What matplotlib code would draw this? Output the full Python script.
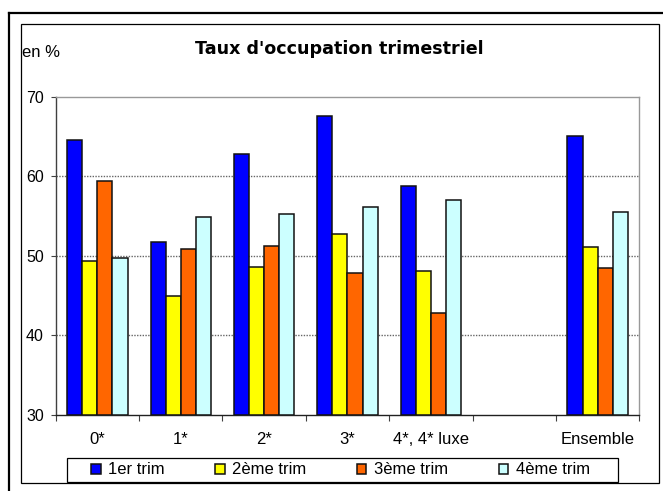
import matplotlib
matplotlib.use("Agg")
import matplotlib.pyplot as plt
import numpy as np
from matplotlib.lines import Line2D
from matplotlib.patches import Rectangle

categories = ["0*", "1*", "2*", "3*", "4*, 4* luxe", "", "Ensemble"]
series_names = ["1er trim", "2ème trim", "3ème trim", "4ème trim"]
trim1 = [64.5, 51.7, 62.8, 67.6, 58.8, None, 65.0]
trim2 = [49.3, 45.0, 48.6, 52.7, 48.1, None, 51.1]
trim3 = [59.4, 50.9, 51.3, 47.9, 42.8, None, 48.5]
trim4 = [49.7, 54.9, 55.3, 56.2, 57.0, None, 55.5]
series = [trim1, trim2, trim3, trim4]
colors = ["#0000FF", "#FFFF00", "#FF6600", "#CCFFFF"]
yticks = [30, 40, 50, 60, 70]

W, H = 663, 491
plt.rcParams['font.family'] = ['Liberation Sans', 'DejaVu Sans']
fig = plt.figure(figsize=(W / 100, H / 100), dpi=100)

def fx(px):
    return px / W

def fy(py):
    return 1 - py / H

# plot area
L, R, T, B = 55.7, 639.3, 96.7, 415.0
ax = fig.add_axes([fx(L), fy(B), fx(R) - fx(L), fy(T) - fy(B)])

bw = 0.181
for j, (vals, col, name) in enumerate(zip(series, colors, series_names)):
    xs, hs = [], []
    for i, v in enumerate(vals):
        if v is None:
            continue
        xs.append(i + 0.5 + (j - 1.5) * bw)
        hs.append(v - yticks[0])
    ax.bar(xs, hs, width=bw, bottom=yticks[0], color=col, edgecolor="#111111",
           linewidth=1.1, label=name, zorder=3)

ax.set_xlim(0, len(categories))
ax.set_ylim(yticks[0], yticks[-1])
ax.set_yticks(yticks)
ax.set_yticklabels([str(t) for t in yticks])
ax.set_xticks(np.arange(0, len(categories) + 1))
ax.set_xticklabels([])
ax.set_xticks(np.arange(len(categories)) + 0.5, minor=True)
ax.set_xticklabels(categories, minor=True)
ax.tick_params(axis="x", which="major", direction="out", length=4, width=0.8, color="#404040")
ax.tick_params(axis="x", which="minor", length=0, pad=12, labelsize=12)
ax.tick_params(axis="y", direction="out", length=3.5, width=0.8, color="#404040", pad=5, labelsize=11.5)

for t in yticks[1:-1]:
    ax.axhline(t, color="#666666", linestyle=(0, (1, 1)), linewidth=1.0, zorder=1)

ax.spines["top"].set_color("#999999")
ax.spines["right"].set_color("#999999")
ax.spines["left"].set_color("#404040")
ax.spines["bottom"].set_color("#202020")
for s in ax.spines.values():
    s.set_linewidth(1.0)

# frames
fig.add_artist(Line2D([fx(9), fx(9)], [fy(13.3), 0], transform=fig.transFigure,
                      color="black", linewidth=1.6, solid_capstyle="projecting"))
fig.add_artist(Line2D([fx(9), 1], [fy(13.3), fy(13.3)], transform=fig.transFigure,
                      color="black", linewidth=1.6, solid_capstyle="projecting"))
fig.add_artist(Rectangle((fx(20.7), fy(483.0)), fx(659.3) - fx(20.7), fy(24.3) - fy(483.0),
                         transform=fig.transFigure, fill=False, edgecolor="black", linewidth=0.9))

fig.text(fx(22.5), fy(57.0), "en %", fontsize=12, ha="left", va="baseline")
fig.text(fx(339.5), fy(54.5), "Taux d'occupation trimestriel", fontsize=12.6,
         fontweight="bold", family=["DejaVu Sans"], ha="center", va="baseline")

# legend box
fig.add_artist(Rectangle((fx(67.3), fy(482.0)), fx(618.3) - fx(67.3), fy(457.7) - fy(482.0),
                         transform=fig.transFigure, fill=False, edgecolor="black", linewidth=0.9))
leg = fig.legend(loc="center", ncol=4,
                 bbox_to_anchor=(fx(340.5), fy(470.0)),
                 bbox_transform=fig.transFigure, borderaxespad=0, fontsize=12,
                 handlelength=0.55, handleheight=0.55, handletextpad=0.45,
                 columnspacing=3.05, borderpad=0.2, frameon=False)

fig.savefig("out.png", dpi=100)
